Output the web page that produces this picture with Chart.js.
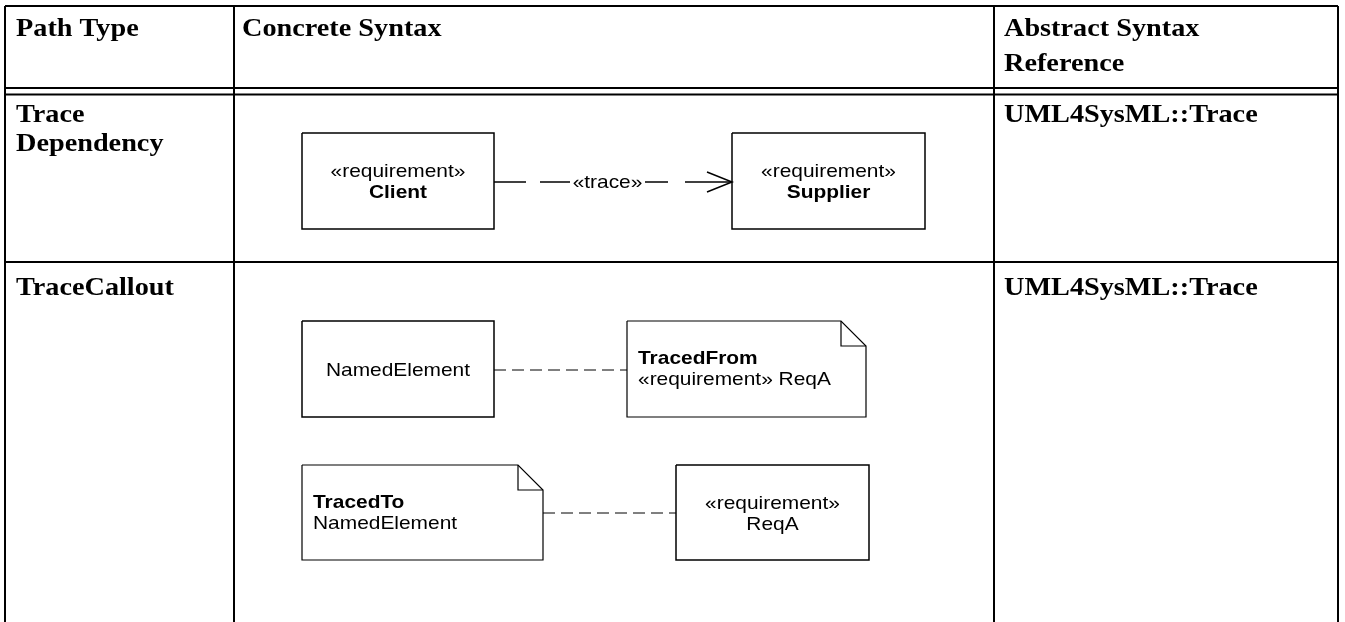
<!DOCTYPE html>
<html>
<head>
<meta charset="utf-8">
<script src="https://cdn.jsdelivr.net/npm/chart.js@4.4.1/dist/chart.umd.min.js"></script>
<style>
  html, body { margin: 0; padding: 0; background: #fff; }
  #wrap { width: 1345px; height: 622px; position: relative; }
</style>
</head>
<body>
<div id="wrap"><canvas id="chart"></canvas></div>
<script>
// table text
const headers = ['Path Type', 'Concrete Syntax', ['Abstract Syntax', 'Reference']];
const pathTypes = [['Trace', 'Dependency'], ['TraceCallout']];
const references = ['UML4SysML::Trace', 'UML4SysML::Trace'];

// table grid, page units (x to the right, y downward)
const gridX = [5, 234, 994, 1338];
const gridY = [6, 88, 94.5, 262];
const gridBottom = 622;

// diagram elements
const boxes = [
  { x: 302, y: 133, w: 192, h: 96, lines: [['«requirement»', false], ['Client', true]] },
  { x: 732, y: 133, w: 193, h: 96, lines: [['«requirement»', false], ['Supplier', true]] },
  { x: 302, y: 321, w: 192, h: 96, lines: [['NamedElement', false]] },
  { x: 676, y: 465, w: 193, h: 95, lines: [['«requirement»', false], ['ReqA', false]] }
];
const notes = [
  { x: 627, y: 321, w: 239, h: 96, lines: [['TracedFrom', true], ['«requirement» ReqA', false]] },
  { x: 302, y: 465, w: 241, h: 95, lines: [['TracedTo', true], ['NamedElement', false]] }
];
const traceDashes = [[494, 526], [540, 570], [645, 668], [685, 732]];
const traceY = 182;
const traceLabel = '«trace»';
const calloutLinks = [[494, 627, 370], [543, 676, 513]];

const FOLD = 25;
const STRETCH = 1.13;
const serif = 'bold 25px "Liberation Serif", "Times New Roman", serif';
const sans = '18.5px "Liberation Sans", Arial, sans-serif';
const sansBold = 'bold 18.5px "Liberation Sans", Arial, sans-serif';

function shape(points, width, dash) {
  return {
    data: points.map(p => ({ x: p[0], y: p[1] })),
    showLine: true,
    borderColor: '#000',
    borderWidth: width,
    borderDash: dash || [],
    borderJoinStyle: 'miter',
    pointRadius: 0,
    pointHoverRadius: 0,
    fill: false,
    tension: 0,
    clip: false
  };
}

let datasets = [];

// grid
datasets.push(shape([[gridX[0], gridY[0]], [gridX[3], gridY[0]]], 2));
gridY.slice(1).forEach(y => datasets.push(shape([[gridX[0], y], [gridX[3], y]], 2)));
gridX.forEach(x => datasets.push(shape([[x, gridY[0]], [x, gridBottom]], 2)));

// boxes
boxes.forEach(b => {
  datasets.push(shape([[b.x, b.y], [b.x + b.w, b.y], [b.x + b.w, b.y + b.h], [b.x, b.y + b.h], [b.x, b.y]], 1.5));
});
// notes with folded corner
notes.forEach(n => {
  const r = n.x + n.w;
  datasets.push(shape([[n.x, n.y], [r - FOLD, n.y], [r, n.y + FOLD], [r, n.y + n.h], [n.x, n.y + n.h], [n.x, n.y]], 1.2));
  datasets.push(shape([[r - FOLD, n.y], [r - FOLD, n.y + FOLD], [r, n.y + FOLD]], 1.2));
});
// trace dependency
traceDashes.forEach(d => datasets.push(shape([[d[0], traceY], [d[1], traceY]], 1.5)));
const tip = traceDashes[traceDashes.length - 1][1];
datasets.push(shape([[tip - 25, traceY - 10], [tip, traceY], [tip - 25, traceY + 10]], 1.5));
// callout links
calloutLinks.forEach(l => datasets.push(shape([[l[0], l[2]], [l[1], l[2]]], 1, [12, 6])));

// text items: [text, x, y, font, align]
let texts = [];
texts.push([headers[0], 16, 36, serif, 'left']);
texts.push([headers[1], 242, 36, serif, 'left']);
texts.push([headers[2][0], 1004, 36, serif, 'left']);
texts.push([headers[2][1], 1004, 70.5, serif, 'left']);
texts.push([pathTypes[0][0], 16, 122, serif, 'left']);
texts.push([pathTypes[0][1], 16, 151, serif, 'left']);
texts.push([pathTypes[1][0], 16, 295, serif, 'left']);
texts.push([references[0], 1004, 122, serif, 'left']);
texts.push([references[1], 1004, 295, serif, 'left']);

boxes.forEach(b => {
  const cx = b.x + b.w / 2;
  const n = b.lines.length;
  const mid = b.y + b.h / 2;
  b.lines.forEach((ln, i) => {
    const y = mid + 6.5 + (i - (n - 1) / 2) * 21;
    texts.push([ln[0], cx, y, ln[1] ? sansBold : sans, 'center']);
  });
});
notes.forEach(n => {
  n.lines.forEach((ln, i) => {
    texts.push([ln[0], n.x + 11, n.y + 43 + i * 21, ln[1] ? sansBold : sans, 'left']);
  });
});
texts.push([traceLabel, (traceDashes[1][1] + traceDashes[2][0]) / 2, traceY + 5.5, sans, 'center']);

const textPlugin = {
  id: 'diagramText',
  afterDatasetsDraw(chart) {
    const ctx = chart.ctx;
    const xs = chart.scales.x, ys = chart.scales.y;
    texts.forEach(t => {
      ctx.save();
      ctx.translate(xs.getPixelForValue(t[1]), ys.getPixelForValue(t[2]));
      ctx.scale(STRETCH, 1);
      ctx.font = t[3];
      ctx.fillStyle = '#000';
      ctx.textAlign = t[4];
      ctx.textBaseline = 'alphabetic';
      ctx.fillText(t[0], 0, 0);
      ctx.restore();
    });
  }
};

new Chart(document.getElementById('chart'), {
  type: 'scatter',
  data: { datasets: datasets },
  options: {
    responsive: true,
    maintainAspectRatio: false,
    animation: false,
    events: [],
    layout: { padding: 0 },
    plugins: { legend: { display: false }, tooltip: { enabled: false } },
    scales: {
      x: { type: 'linear', min: 0, max: 1345, display: false },
      y: { type: 'linear', min: 0, max: 622, reverse: true, display: false }
    }
  },
  plugins: [textPlugin]
});
</script>
</body>
</html>
